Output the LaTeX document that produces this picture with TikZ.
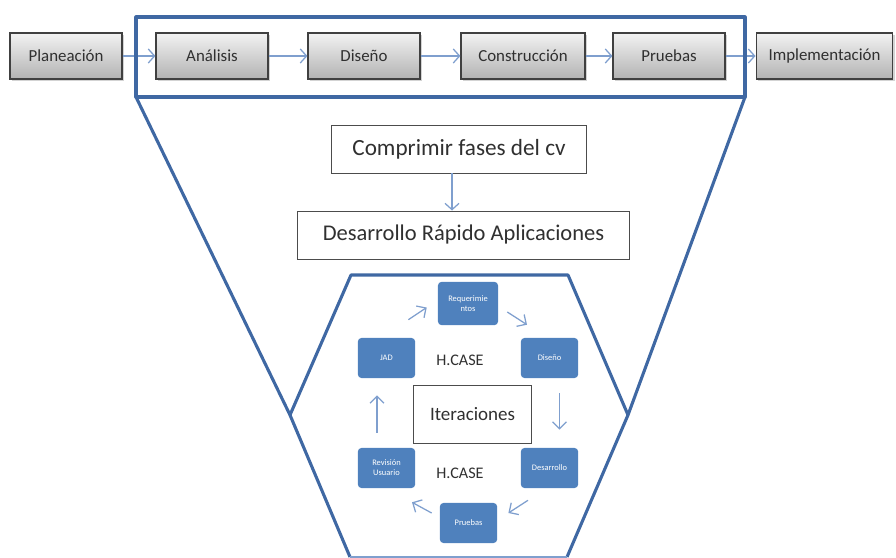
\documentclass[tikz,border=0pt]{standalone}
\usepackage{fontspec}
\setmainfont{Carlito}
\usepackage{tikz}
\usetikzlibrary{positioning,shapes,arrows.meta,shadows}
\definecolor{frameblue}{HTML}{3F68A3}
\definecolor{boxblue}{HTML}{4F81BD}
\definecolor{flowblue}{HTML}{7F9FCE}
\definecolor{txtgray}{HTML}{303030}
\tikzset{
  fase/.style={draw=black!75, line width=0.8pt, top color=white!95!black, bottom color=black!30,
    minimum width=2.8cm, minimum height=1.15cm, font=\fontsize{12}{14}\selectfont, text=txtgray,
    drop shadow={shadow xshift=1.2pt, shadow yshift=-1.2pt, opacity=0.35}},
  caja/.style={draw=black!70, line width=0.7pt, fill=white, text=txtgray},
  etapa/.style={fill=boxblue, rounded corners=2.5pt, text=white, align=center,
    minimum width=1.43cm, minimum height=1cm, font=\fontsize{6}{7}\selectfont},
  flujo/.style={flowblue, line width=0.9pt, -{Straight Barb[length=4.5pt,width=10pt]}},
  ciclo/.style={flowblue, line width=0.9pt, -{Straight Barb[length=5pt,width=10pt]}},
  marco/.style={frameblue, line width=2.2pt, line join=round}
}
\begin{document}
\begin{tikzpicture}[x=0.025cm,y=-0.025cm]
\useasboundingbox (0,0) rectangle (896,558);
% fases del ciclo de vida
\node[fase] (plan) at (66,56) {Planeación};
\node[fase] (anal) at (212,56) {Análisis};
\node[fase] (dise) at (364,56) {Diseño};
\node[fase, minimum width=3.1cm] (cons) at (523,56) {Construcción};
\node[fase] (prue) at (669,56) {Pruebas};
\node[fase, minimum width=3.42cm] (impl) at (824.5,56) {Implementación};
\draw[flujo] (plan) -- (anal);
\draw[flujo] (anal) -- (dise);
\draw[flujo] (dise) -- (cons);
\draw[flujo] (cons) -- (prue);
\draw[flujo] (prue) -- (impl);
% marco y embudo
\draw[marco] (136,17) rectangle (745,97);
\draw[marco] (136,97) -- (290,415);
\draw[marco] (745,97) -- (628,415);
\draw[marco] (350,557) -- (290,415) -- (351,275) -- (568,275) -- (628,415) -- (567,557);
\draw[flowblue, line width=1pt] (350,557) -- (567,557);
% compresion
\node[caja, minimum width=6.35cm, minimum height=1.2cm, font=\fontsize{16.5}{18}\selectfont] (comp) at (459,149) {Comprimir fases del cv};
\node[caja, minimum width=8.28cm, minimum height=1.2cm, font=\fontsize{16}{18}\selectfont] (desa) at (463.5,235) {Desarrollo Rápido Aplicaciones};
\draw[flujo] ([shift={(-7,0)}]comp.south) -- ([shift={(-7,0)}]comp.south |- desa.north);
% iteraciones
\node[etapa, minimum width=1.5cm, minimum height=1.08cm] (req) at (468,303.5) {Requerimie\\ntos};
\node[etapa] (dis) at (549.5,358) {Diseño};
\node[etapa] (des) at (549.5,468) {Desarrollo};
\node[etapa] (pru) at (468.5,523) {Pruebas};
\node[etapa] (rev) at (386.5,468) {Revisión\\Usuario};
\node[etapa] (jad) at (386.5,358) {JAD};
\node[caja, minimum width=2.93cm, minimum height=1.43cm, font=\fontsize{13.5}{15}\selectfont] (iter) at (472.5,414.5) {Iteraciones};
\node[text=txtgray, font=\fontsize{11.5}{13}\selectfont] (hcase1) at (460,360) {H.CASE};
\node[text=txtgray, font=\fontsize{11.5}{13}\selectfont] (hcase2) at (460,473) {H.CASE};
\draw[ciclo] ([shift={(-7,-18)}]jad.north east) -- ([shift={(-11,4)}]req.west);
\draw[ciclo] ([shift={(9,8.5)}]req.east) -- ([shift={(-22.5,-13)}]dis.north);
\draw[ciclo] ([shift={(10,15)}]dis.south) -- ([shift={(10,-18)}]des.north);
\draw[ciclo] ([shift={(-21.5,12)}]des.south) -- ([shift={(11,-10)}]pru.east);
\draw[ciclo] ([shift={(-8,-10)}]pru.west) -- ([shift={(25.5,14)}]rev.south);
\draw[ciclo] ([shift={(-9.5,-15)}]rev.north) -- ([shift={(-9.5,17)}]jad.south);
\end{tikzpicture}
\end{document}
